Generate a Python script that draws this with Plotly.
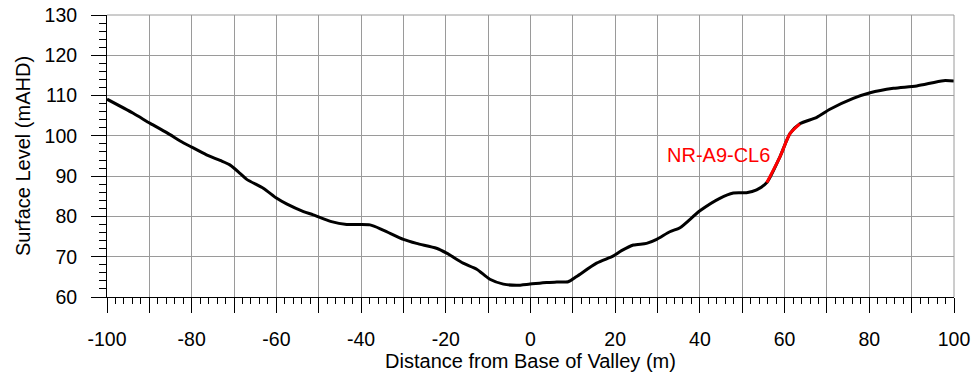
import plotly.graph_objects as go

# Ground surface profile across the valley
distance = [-100, -93.8, -89.8, -85.9, -82.0, -80.0, -76.5, -73.3, -71.0, -68.6,
            -67.0, -63.1, -59.9, -57.6, -53.6, -51.3, -47.0, -43.4, -37.9, -34.8,
            -30.0, -26.9, -22.2, -19.8, -15.9, -12.7, -9.6, -6.4, -3.3, -0.1,
            3.8, 6.2, 8.9, 10.9, 15.6, 19.6, 21.5, 24.3, 27.4, 29.8,
            32.9, 35.3, 40.0, 44.7, 47.9, 51.0, 53.4, 55.8, 58.9, 61.3,
            63.6, 67.6, 70.7, 76.2, 80.2, 85.7, 91.2, 97.5, 100]
level = [109.1, 105.6, 103.1, 100.8, 98.3, 97.2, 95.3, 93.9, 92.8, 90.7,
         89.2, 87.0, 84.5, 83.1, 81.2, 80.4, 78.7, 78.0, 77.9, 76.6,
         74.3, 73.3, 72.1, 70.9, 68.4, 66.9, 64.4, 63.2, 62.9, 63.2,
         63.6, 63.7, 63.8, 65.1, 68.4, 70.2, 71.5, 72.9, 73.3, 74.3,
         76.2, 77.2, 81.4, 84.5, 85.8, 85.9, 86.6, 88.4, 94.8, 100.6,
         103.0, 104.6, 106.6, 109.3, 110.7, 111.8, 112.4, 113.7, 113.6]

# Cliff line segment
cliff_name = "NR-A9-CL6"
cliff_start, cliff_end = 55.8, 63.6
cliff_x = [d for d in distance if cliff_start <= d <= cliff_end]
cliff_y = [v for d, v in zip(distance, level) if cliff_start <= d <= cliff_end]
label_pos = (44.3, 95.3)

x_major = list(range(-100, 101, 10))
x_text = [str(v) if v % 20 == 0 else "" for v in x_major]

FONT = "Liberation Sans, Arial, sans-serif"
GRID = "#9a9a9a"

fig = go.Figure()
fig.add_trace(go.Scatter(x=distance, y=level, mode="lines",
                         line=dict(color="black", width=3, shape="spline", smoothing=0.7),
                         showlegend=False, hoverinfo="skip"))
fig.add_trace(go.Scatter(x=cliff_x, y=cliff_y, mode="lines",
                         line=dict(color="#ff0000", width=3, shape="spline", smoothing=0.7),
                         showlegend=False, hoverinfo="skip"))
fig.add_annotation(x=label_pos[0], y=label_pos[1], text=cliff_name, showarrow=False,
                   font=dict(family=FONT, size=20, color="#ff0000"))

fig.update_xaxes(range=[-100, 100], tickmode="array", tickvals=x_major, ticktext=x_text,
                 ticks="outside", ticklen=15, tickcolor="black", tickwidth=1,
                 minor=dict(dtick=2, ticks="outside", ticklen=6, tickcolor="black",
                            tickwidth=1, showgrid=False),
                 showline=True, linecolor="black", linewidth=1,
                 showgrid=True, gridcolor=GRID, gridwidth=1, zeroline=False,
                 automargin=False, ticklabelstandoff=10,
                 tickfont=dict(family=FONT, size=19.5, color="black"),
                 title=dict(text="Distance from Base of Valley (m)", standoff=4,
                            font=dict(family=FONT, size=20, color="black")))
fig.update_yaxes(range=[60, 130], dtick=10, ticks="outside", ticklen=15,
                 tickcolor="black", tickwidth=1,
                 minor=dict(dtick=2, ticks="outside", ticklen=7, tickcolor="black",
                            tickwidth=1, showgrid=False),
                 showline=True, linecolor="black", linewidth=1,
                 showgrid=True, gridcolor=GRID, gridwidth=1, zeroline=False,
                 automargin=False, ticklabelstandoff=10,
                 tickfont=dict(family=FONT, size=19.5, color="black"),
                 title=dict(text="Surface Level (mAHD)", standoff=8,
                            font=dict(family=FONT, size=20, color="black")))

# grey frame on the top and right edges of the plot area
fig.add_shape(type="line", xref="paper", yref="paper", x0=0, x1=1, y0=1, y1=1,
              line=dict(color=GRID, width=1))
fig.add_shape(type="line", xref="paper", yref="paper", x0=1, x1=1, y0=0, y1=1,
              line=dict(color=GRID, width=1))

fig.update_layout(width=975, height=376, margin=dict(l=107, r=21, t=15, b=79),
                  paper_bgcolor="white", plot_bgcolor="white",
                  font=dict(family=FONT, color="black"))

fig.write_html("out.html")
